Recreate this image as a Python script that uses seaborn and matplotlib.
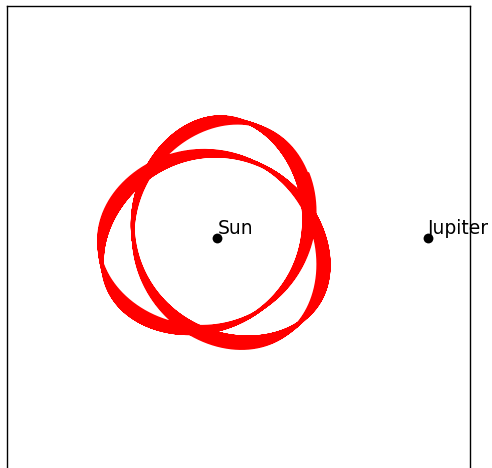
import math
import numpy as np
import pandas as pd
import matplotlib
matplotlib.use("Agg")
import matplotlib.pyplot as plt
import seaborn as sns

# Sun-Jupiter circular restricted three-body problem, co-rotating frame
mass_ratio = 0.000954
body_names = ["Sun", "Jupiter"]
body_x = [-mass_ratio, 1.0 - mass_ratio]
body_y = [0.0, 0.0]

# Asteroid starting orbit close to the 3:1 mean-motion resonance
start_semi_major = 0.4798
start_eccentricity = 0.20
start_aphelion_deg = 86.0
jupiter_periods = 20
steps_per_period = 3000


def accel(x, y, vx, vy):
    mu = mass_ratio
    dx1, dx2 = x + mu, x - 1.0 + mu
    r1 = math.hypot(dx1, y) ** 3
    r2 = math.hypot(dx2, y) ** 3
    ax = 2.0 * vy + x - (1.0 - mu) * dx1 / r1 - mu * dx2 / r2
    ay = -2.0 * vx + y - (1.0 - mu) * y / r1 - mu * y / r2
    return ax, ay


def integrate():
    a, e = start_semi_major, start_eccentricity
    phi = math.radians(start_aphelion_deg)
    r_ap = a * (1.0 + e)
    v_ap = math.sqrt((1.0 - mass_ratio) * (1.0 - e) / (a * (1.0 + e)))
    x = body_x[0] + r_ap * math.cos(phi)
    y = r_ap * math.sin(phi)
    vt = v_ap - r_ap
    vx, vy = -vt * math.sin(phi), vt * math.cos(phi)
    dt = 2.0 * math.pi / steps_per_period
    xs, ys = [x], [y]
    for _ in range(jupiter_periods * steps_per_period):
        k1vx, k1vy = accel(x, y, vx, vy)
        x2, y2 = x + 0.5 * dt * vx, y + 0.5 * dt * vy
        vx2, vy2 = vx + 0.5 * dt * k1vx, vy + 0.5 * dt * k1vy
        k2vx, k2vy = accel(x2, y2, vx2, vy2)
        x3, y3 = x + 0.5 * dt * vx2, y + 0.5 * dt * vy2
        vx3, vy3 = vx + 0.5 * dt * k2vx, vy + 0.5 * dt * k2vy
        k3vx, k3vy = accel(x3, y3, vx3, vy3)
        x4, y4 = x + dt * vx3, y + dt * vy3
        vx4, vy4 = vx + dt * k3vx, vy + dt * k3vy
        k4vx, k4vy = accel(x4, y4, vx4, vy4)
        x += dt / 6.0 * (vx + 2 * vx2 + 2 * vx3 + vx4)
        y += dt / 6.0 * (vy + 2 * vy2 + 2 * vy3 + vy4)
        vx += dt / 6.0 * (k1vx + 2 * k2vx + 2 * k3vx + k4vx)
        vy += dt / 6.0 * (k1vy + 2 * k2vy + 2 * k3vy + k4vy)
        xs.append(x)
        ys.append(y)
    return np.array(xs), np.array(ys)


px, py = integrate()
orbit = pd.DataFrame({"x": px, "y": py})
bodies = pd.DataFrame({"name": body_names, "x": body_x, "y": body_y})

sns.set_theme(style="white")
fig = plt.figure(figsize=(4.92, 4.68), dpi=100)
ax = fig.add_axes([7 / 492, -1 / 468, 463 / 492, 463 / 468])

sns.lineplot(data=orbit, x="x", y="y", sort=False, estimator=None,
             color="red", linewidth=1.8, ax=ax)
sns.scatterplot(data=bodies, x="x", y="y", color="black", s=50,
                edgecolor="black", linewidth=0, ax=ax, zorder=3)
for _, b in bodies.iterrows():
    ax.text(b["x"], b["y"], b["name"], fontsize=13.5, color="black",
            ha="left", va="bottom", family="DejaVu Sans")

ax.set_xlim(-1.0, 1.2)
ax.set_ylim(-1.1, 1.1)
ax.set_aspect("equal")
ax.set_xticks([])
ax.set_yticks([])
ax.set_xlabel("")
ax.set_ylabel("")
for s in ax.spines.values():
    s.set_color("black")
    s.set_linewidth(1.0)

fig.savefig("out.png", dpi=100)
